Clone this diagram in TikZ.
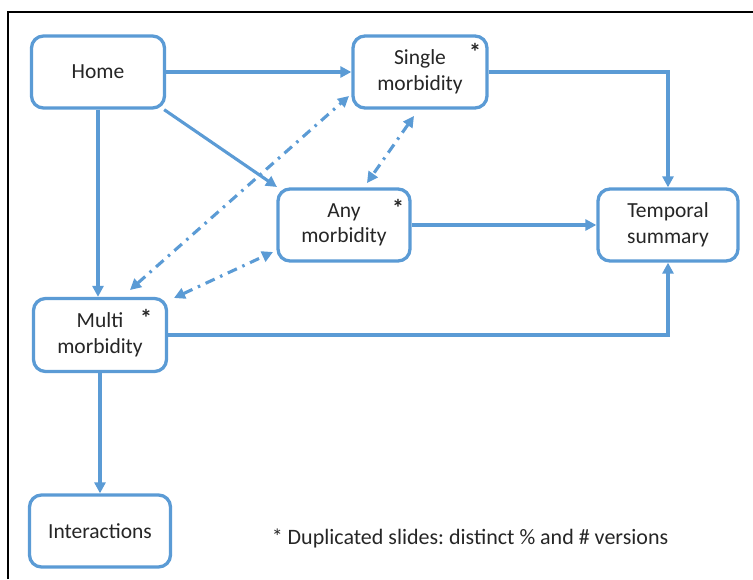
\documentclass[tikz,border=0pt]{standalone}
\usepackage{fontspec}
\setmainfont{Carlito}
\usetikzlibrary{arrows.meta}
\definecolor{lblue}{RGB}{91,155,213}
\begin{document}
\frenchspacing
\begin{tikzpicture}[x=1pt,y=-1pt,
  box/.style={draw=lblue, line width=3.3pt, rounded corners=12pt, fill=white, align=center, inner sep=0pt, font=\fontsize{21.5}{25.5}\selectfont, text=black!85},
  conn/.style={draw=lblue, line width=3.1pt, -{Triangle[length=11pt,width=11pt]}},
  dd/.style={draw=lblue, line width=3.1pt, {Triangle[length=11pt,width=11pt]}-{Triangle[length=11pt,width=11pt]}, dash pattern=on 10pt off 6pt on 2.5pt off 6pt},
  star/.style={font=\fontsize{24}{28}\selectfont\bfseries, text=black!85, inner sep=0pt}]
\useasboundingbox (0,0) rectangle (753,579);
\draw[black, line width=2.8pt] (8,579) -- (8,12) -- (753,12);
\node[box, minimum width=133pt, minimum height=72pt] (home) at (98,72) {Home};
\node[box, minimum width=134pt, minimum height=72pt] (single) at (420,72) {Single\\morbidity};
\node[box, minimum width=132pt, minimum height=72pt] (any) at (344,225) {Any\\morbidity};
\node[box, minimum width=140pt, minimum height=72pt] (temp) at (668,225) {Temporal\\summary};
\node[box, minimum width=133pt, minimum height=73pt] (multi) at (100,335) {Multi\\morbidity};
\node[box, minimum width=141pt, minimum height=72pt] (inter) at (100,531) {Interactions};
\node[star] (s1) at (475,52) {*};
\node[star] (s2) at (398,208) {*};
\node[star] (s3) at (146,318) {*};
\node[font=\fontsize{22}{26}\selectfont, text=black!85, inner sep=0pt] (foot) at (470,538) {* Duplicated slides: distinct \% and \# versions};
\coordinate (c1) at (668,72);
\coordinate (c2) at (668,335);
\draw[conn] (home.east) -- (single.west);
\draw[conn] (single.east) -- (c1) -- (temp.north);
\draw[conn] (home.south east) ++(-2,0) coordinate (h1) -- (277,187);
\draw[conn] (home.south) -- (multi.north -| home.south);
\draw[conn] (any.east) -- (temp.west);
\draw[conn] (multi.east) -- (c2) -- (temp.south);
\draw[conn] (multi.south) -- (inter.north);
\draw[dd] (130,290) -- (349,96);
\draw[dd] (414,116) -- (367,183);
\draw[dd] (174,298) -- (273,252);
\end{tikzpicture}
\end{document}
